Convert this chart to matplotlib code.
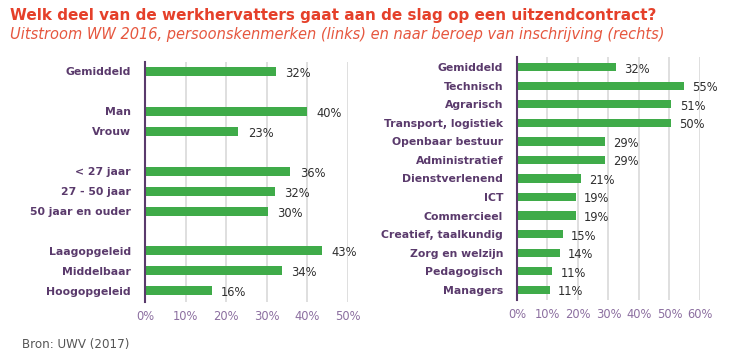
import numpy as np
import matplotlib.pyplot as plt
from matplotlib.ticker import PercentFormatter

# linker paneel: persoonskenmerken (groepen)
left_groups = [["Gemiddeld"], ["Man", "Vrouw"], ["< 27 jaar", "27 - 50 jaar", "50 jaar en ouder"],
               ["Laagopgeleid", "Middelbaar", "Hoogopgeleid"]]
left_values = [32.3, 40.0, 23.0, 35.8, 32.0, 30.3, 43.5, 33.7, 16.4]
left_labels = ["32%", "40%", "23%", "36%", "32%", "30%", "43%", "34%", "16%"]

# rechter paneel: beroep van inschrijving
right_cats = ["Gemiddeld", "Technisch", "Agrarisch", "Transport, logistiek", "Openbaar bestuur",
              "Administratief", "Dienstverlenend", "ICT", "Commercieel", "Creatief, taalkundig",
              "Zorg en welzijn", "Pedagogisch", "Managers"]
right_values = [32.3, 54.6, 50.6, 50.4, 28.8, 28.7, 20.9, 19.2, 19.2, 15.0, 14.0, 11.4, 10.7]
right_labels = ["32%", "55%", "51%", "50%", "29%", "29%", "21%", "19%", "19%", "15%", "14%", "11%", "11%"]

green = "#3fab49"
purple = "#5a3a6c"
tickcol = "#8c6fa0"
grid = "#dcdcdc"
font = "DejaVu Sans"

fig = plt.figure(figsize=(7.3, 3.56), dpi=100)

def style(ax, xmax, ticks):
    ax.set_xlim(0, xmax)
    ax.set_xticks(ticks)
    ax.xaxis.set_major_formatter(PercentFormatter(decimals=0))
    ax.grid(axis="x", color=grid, linewidth=1.3)
    ax.set_axisbelow(True)
    for s in ["top", "right", "bottom"]:
        ax.spines[s].set_visible(False)
    ax.spines["left"].set_color(purple)
    ax.spines["left"].set_linewidth(1.5)
    ax.tick_params(axis="both", length=0)
    ax.tick_params(axis="x", colors=tickcol, labelsize=8.3, pad=6)
    ax.tick_params(axis="y", pad=10)
    for t in ax.get_yticklabels():
        t.set_fontweight("bold")
        t.set_color(purple)
        t.set_fontsize(7.8)

# posities links: lege rij tussen groepen
left_cats = []
left_pos = []
slot = 0
for g in left_groups:
    for c in g:
        left_cats.append(c)
        left_pos.append(slot)
        slot += 1
    slot += 1
left_pos = np.array(left_pos)

ax1 = fig.add_axes([0.1986, 0.1517, 0.2781, 0.6741])
ax1.barh(left_pos, left_values, height=0.45, color=green)
ax1.set_yticks(left_pos)
ax1.set_yticklabels(left_cats)
ax1.set_ylim(left_pos[-1] + 0.55, -0.45)
style(ax1, 50, range(0, 51, 10))
for p, v, l in zip(left_pos, left_values, left_labels):
    ax1.text(v + 2.3, p + 0.1, l, va="center", ha="left", fontsize=8.3, color="#2e2e2e")

rpos = np.arange(len(right_cats))
ax2 = fig.add_axes([0.7082, 0.1573, 0.2507, 0.6826])
ax2.barh(rpos, right_values, height=0.45, color=green)
ax2.set_yticks(rpos)
ax2.set_yticklabels(right_cats)
ax2.set_ylim(rpos[-1] + 0.55, -0.55)
style(ax2, 60, range(0, 61, 10))
for p, v, l in zip(rpos, right_values, right_labels):
    ax2.text(v + 2.8, p + 0.1, l, va="center", ha="left", fontsize=8.3, color="#2e2e2e")

fig.text(0.014, 0.945, "Welk deel van de werkhervatters gaat aan de slag op een uitzendcontract?",
         fontsize=11.0, fontweight="bold", color="#e5402a", family=font)
fig.text(0.014, 0.89, "Uitstroom WW 2016, persoonskenmerken (links) en naar beroep van inschrijving (rechts)",
         fontsize=10.5, fontstyle="italic", color="#e6573f", family=font)
fig.text(0.03, 0.022, "Bron: UWV (2017)", fontsize=8.6, color="#555555", family=font)

fig.savefig("out.png", dpi=100)
